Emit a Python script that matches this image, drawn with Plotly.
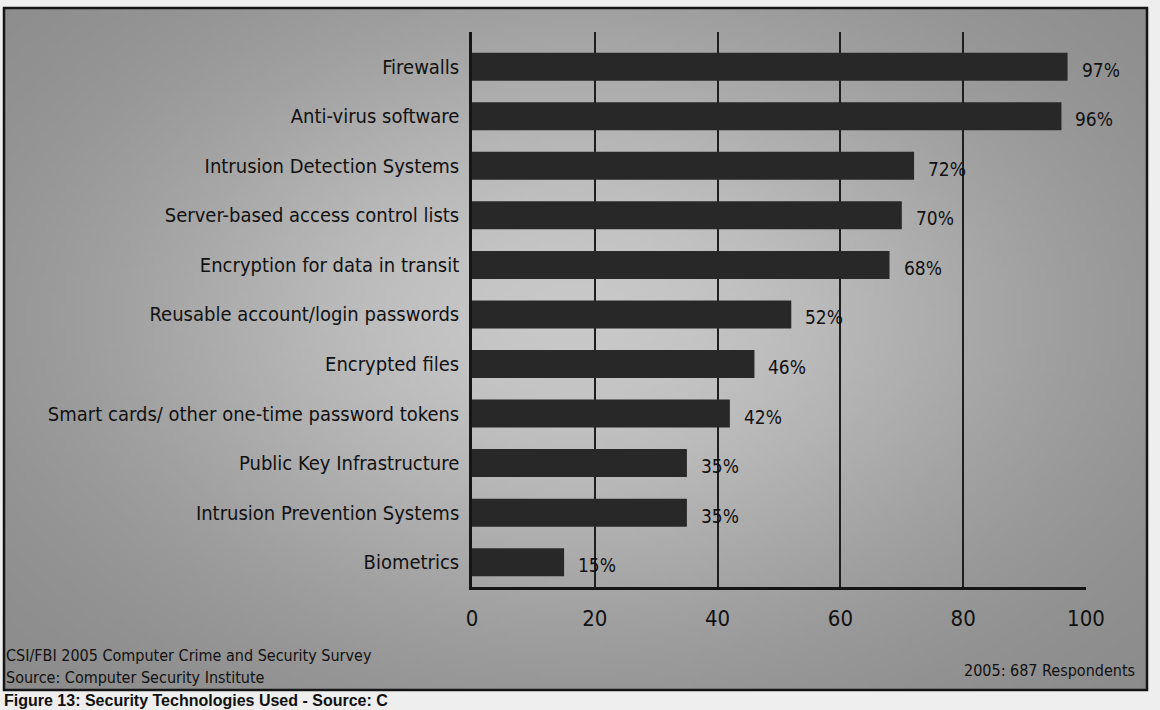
import base64
import math
import struct
import zlib

import plotly.graph_objects as go

# Survey data (percent of respondents using each technology)
categories = [
    "Firewalls",
    "Anti-virus software",
    "Intrusion Detection Systems",
    "Server-based access control lists",
    "Encryption for data in transit",
    "Reusable account/login passwords",
    "Encrypted files",
    "Smart cards/ other one-time password tokens",
    "Public Key Infrastructure",
    "Intrusion Prevention Systems",
    "Biometrics",
]
values = [97, 96, 72, 70, 68, 52, 46, 42, 35, 35, 15]
x_ticks = [0, 20, 40, 60, 80, 100]

# Canvas geometry (pixels)
W, H = 1160, 710
L, R, T, B = 472, 74, 32, 123
PW, PH = W - L - R, H - T - B
FRAME = (4, 8, 1147, 690)  # left, top, right, bottom

FONT = "DejaVu Sans Condensed, Liberation Sans Narrow, Arial Narrow, sans-serif"
INK = "#111111"


def px_to_paper_x(px):
    return (px - L) / PW


def px_to_paper_y(py):
    return (H - B - py) / PH


def gradient_png(w, h):
    """Grey panel background, lighter towards the middle."""
    rows = []
    cx, cy = 0.50 * w, 0.45 * h
    for j in range(h):
        row = bytearray([0])
        for i in range(w):
            dx = (i - cx) / (0.42 * w)
            dy = (j - cy) / (0.46 * h)
            v = 136 + 64 * math.exp(-(dx * dx + dy * dy))
            row.append(int(max(0, min(255, v))))
        rows.append(bytes(row))
    raw = b"".join(rows)

    def chunk(tag, data):
        c = struct.pack(">I", len(data)) + tag + data
        return c + struct.pack(">I", zlib.crc32(tag + data) & 0xFFFFFFFF)

    png = b"\x89PNG\r\n\x1a\n"
    png += chunk(b"IHDR", struct.pack(">IIBBBBB", w, h, 8, 0, 0, 0, 0))
    png += chunk(b"IDAT", zlib.compress(raw, 9))
    png += chunk(b"IEND", b"")
    return "data:image/png;base64," + base64.b64encode(png).decode()


# Draw bottom-to-top so the first category sits at the top
cats_rev = categories[::-1]
vals_rev = values[::-1]

fig = go.Figure(
    go.Bar(
        x=vals_rev,
        y=cats_rev,
        orientation="h",
        marker=dict(color="#282828", line=dict(width=0)),
        hoverinfo="skip",
    )
)

# Value labels just past the end of each bar
for c, v in zip(cats_rev, vals_rev):
    fig.add_annotation(
        x=v, y=c, xref="x", yref="y",
        text=f"{v}%", showarrow=False,
        xanchor="left", yanchor="middle", xshift=12, yshift=-3,
        font=dict(family=FONT, size=19, color=INK),
    )

# Footer notes inside the frame
fig.add_annotation(
    x=px_to_paper_x(4), y=px_to_paper_y(655), xref="paper", yref="paper",
    text="CSI/FBI 2005 Computer Crime and Security Survey", showarrow=False,
    xanchor="left", yanchor="middle",
    font=dict(family=FONT, size=16, color=INK),
)
fig.add_annotation(
    x=px_to_paper_x(4), y=px_to_paper_y(677), xref="paper", yref="paper",
    text="Source: Computer Security Institute", showarrow=False,
    xanchor="left", yanchor="middle",
    font=dict(family=FONT, size=16, color=INK),
)
fig.add_annotation(
    x=px_to_paper_x(1137), y=px_to_paper_y(670), xref="paper", yref="paper",
    text="2005: 687 Respondents", showarrow=False,
    xanchor="right", yanchor="middle",
    font=dict(family=FONT, size=16, color=INK),
)

# Figure caption below the frame
fig.add_annotation(
    x=px_to_paper_x(2), y=px_to_paper_y(711), xref="paper", yref="paper",
    text="<b>Figure 13: Security Technologies Used - Source: C</b>", showarrow=False,
    xanchor="left", yanchor="bottom",
    font=dict(family="Liberation Sans, Arial, sans-serif", size=16, color="#111111"),
)

# Panel frame
fig.add_shape(
    type="rect", xref="paper", yref="paper",
    x0=px_to_paper_x(FRAME[0]), x1=px_to_paper_x(FRAME[2]),
    y0=px_to_paper_y(FRAME[3]), y1=px_to_paper_y(FRAME[1]),
    line=dict(color="#151515", width=2.5), layer="above",
)

fig.add_layout_image(
    source=gradient_png(232, 138),
    xref="paper", yref="paper",
    x=px_to_paper_x(FRAME[0]), y=px_to_paper_y(FRAME[1]),
    sizex=(FRAME[2] - FRAME[0]) / PW, sizey=(FRAME[3] - FRAME[1]) / PH,
    xanchor="left", yanchor="top", sizing="stretch", layer="below",
)

fig.update_layout(
    width=W, height=H,
    margin=dict(l=L, r=R, t=T, b=B, pad=0, autoexpand=False),
    paper_bgcolor="#eeeeee",
    plot_bgcolor="rgba(0,0,0,0)",
    bargap=0.435,
    showlegend=False,
    xaxis=dict(
        range=[0, 100],
        tickvals=x_ticks,
        ticktext=[str(t) for t in x_ticks],
        showgrid=True, gridcolor="#1e1e1e", gridwidth=1.5,
        zeroline=False,
        showline=True, linecolor="#151515", linewidth=2.5,
        ticks="", ticklabelstandoff=10,
        tickfont=dict(family=FONT, size=22, color=INK),
        automargin=False,
        fixedrange=True,
    ),
    yaxis=dict(
        type="category",
        categoryorder="array", categoryarray=cats_rev,
        range=[-0.5, 10.7],
        showgrid=False, zeroline=False,
        showline=True, linecolor="#151515", linewidth=2.5,
        ticks="", ticklabelstandoff=6,
        tickfont=dict(family=FONT, size=20, color=INK),
        automargin=False,
        fixedrange=True,
    ),
)

fig.write_html("out.html")
